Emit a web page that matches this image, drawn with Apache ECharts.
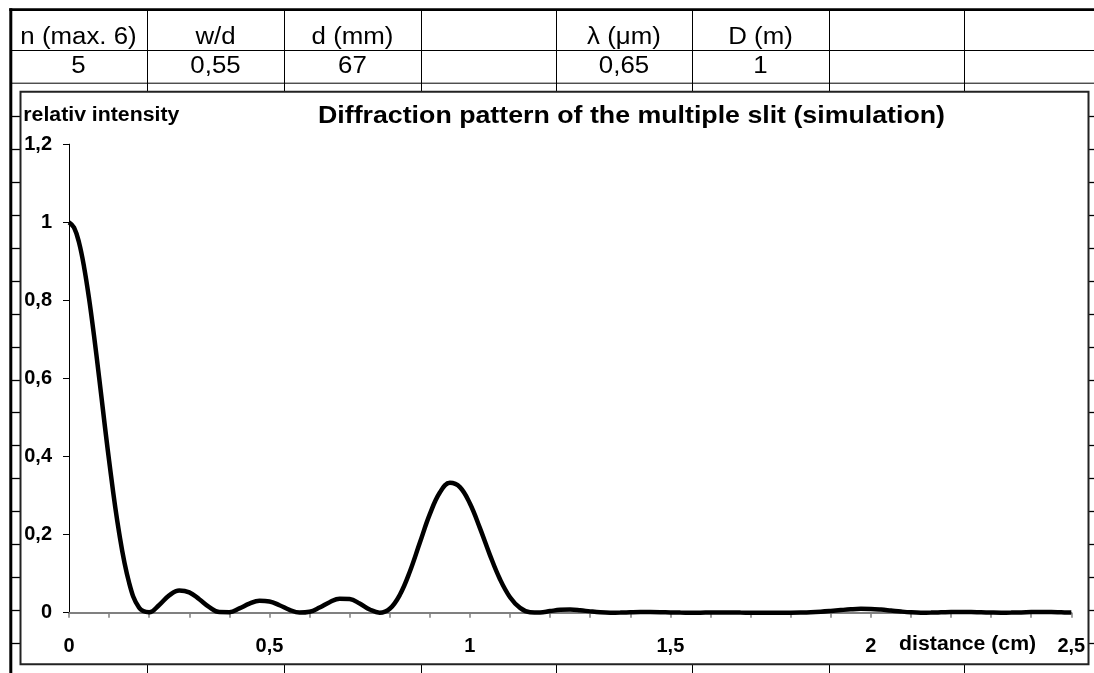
<!DOCTYPE html>
<html>
<head>
<meta charset="utf-8">
<script src="https://cdn.jsdelivr.net/npm/echarts@6/dist/echarts.min.js"></script>
<style>
html,body{margin:0;padding:0;background:#fff;}
#chart{width:1094px;height:673px;}
</style>
</head>
<body>
<div id="chart"></div>
<script>
// ---- data ----
const headerLabels = ['n (max. 6)', 'w/d', 'd (mm)', '', 'λ (μm)', 'D (m)', '', ''];
const headerValues = ['5', '0,55', '67', '', '0,65', '1', '', ''];
const chartTitle = 'Diffraction pattern of the multiple slit (simulation)';
const yAxisName = 'relativ intensity';
const xAxisName = 'distance (cm)';

const distance = [0,0.0125,0.025,0.0375,0.05,0.0625,0.075,0.1,0.125,0.15,0.175,0.2,0.225,0.25,0.275,0.3,0.325,0.35,0.375,0.4,0.425,0.45,0.475,
0.5,0.525,0.55,0.575,0.6,0.625,0.65,0.675,0.7,0.725,0.75,0.775,0.8,0.825,0.85,0.875,0.9,0.925,0.95,0.975,
1,1.025,1.05,1.075,1.1,1.125,1.15,1.175,1.2,1.225,1.25,1.275,1.3,1.325,1.35,1.375,1.4,1.425,1.45,1.475,
1.5,1.525,1.55,1.575,1.6,1.625,1.65,1.675,1.7,1.725,1.75,1.775,1.8,1.825,1.85,1.875,1.9,1.925,1.95,1.975,
2,2.025,2.05,2.075,2.1,2.125,2.15,2.175,2.2,2.225,2.25,2.275,2.3,2.325,2.35,2.375,2.4,2.425,2.45,2.475,2.5];
const intensity = [1,0.9868,0.9481,0.8860,0.8047,0.7087,0.6038,0.3900,0.2050,0.0766,0.0124,0.0010,0.0198,0.0443,0.0570,0.0522,0.0344,0.0143,0.0017,0.0014,0.0109,0.0232,0.0305,
0.0288,0.0192,0.0074,0.0004,0.0025,0.0132,0.0268,0.0360,0.0349,0.0236,0.0083,0.0000,0.0100,0.0453,0.1048,0.1790,0.2523,0.3078,0.3327,0.3218,
0.2795,0.2166,0.1476,0.0857,0.0397,0.0124,0.0013,0.0006,0.0041,0.0073,0.0079,0.0062,0.0034,0.0011,0.0001,0.0002,0.0010,0.0016,0.0017,0.0014,
0.0007,0.0002,0.0000,0.0001,0.0003,0.0003,0.0003,0.0002,0.0001,0.0000,0.0000,0.0000,0.0000,0.0003,0.0010,0.0024,0.0044,0.0067,0.0087,0.0098,
0.0096,0.0081,0.0056,0.0030,0.0010,0.0001,0.0002,0.0009,0.0018,0.0021,0.0019,0.0011,0.0004,0.0000,0.0002,0.0008,0.0015,0.0018,0.0016,0.0009,0.0002];

// ---- layout / style ----
const FONT = "'Liberation Sans', Arial, sans-serif";
const colX = [10, 147, 284, 421, 556, 692, 829, 964, 1094];
const mctx = document.createElement('canvas').getContext('2d');
function fitScale(text, font, target){ mctx.font = font; const w = mctx.measureText(text).width; return w > 0 ? target / w : 1; }
const comma = v => String(+v.toFixed(2)).replace('.', ',');

const g = [];
function line(x1,y1,x2,y2,w,c){ g.push({type:'line', silent:true, shape:{x1,y1,x2,y2}, style:{stroke:c||'#000', lineWidth:w||1}}); }
function text(t, x, y, size, weight, align, sx){
  const font = (weight||'normal') + ' ' + size + 'px ' + FONT;
  g.push({type:'text', silent:true, x:x, y:y, scaleX:sx||1, style:{text:t, x:0, y:0, font:font, fill:'#000', align:align||'center', verticalAlign:'middle'}});
}
// spreadsheet grid
line(9.3, 9.7, 1094, 9.7, 2.7);
line(10.8, 8.3, 10.8, 673, 3);
line(10, 50.5, 1094, 50.5, 1);
line(10, 83.2, 1094, 83.2, 1);
for (let i = 1; i < colX.length - 1; i++) {
  line(colX[i]+0.5, 11, colX[i]+0.5, 91.7, 1);
  line(colX[i]+0.5, 664, colX[i]+0.5, 673, 1);
}
for (let k = 2; k <= 18; k++) {
  const y = Math.round(50 + 32.95*k) + 0.5;
  line(12, y, 20, y, 1.3);
  line(1089, y, 1094, y, 1.3);
}
// header cells
for (let i = 0; i < headerLabels.length; i++) {
  const cx = (colX[i] + colX[i+1]) / 2;
  if (headerLabels[i]) text(headerLabels[i], cx, 37.5, 23.5, 'normal', 'center', 1.1);
  if (headerValues[i]) text(headerValues[i], cx, 67, 23.5, 'normal', 'center', 1.1);
}
// chart box
g.push({type:'rect', silent:true, shape:{x:20.5, y:91.7, width:1068, height:572.5}, style:{fill:null, stroke:'#222', lineWidth:2}});
// chart texts
text(chartTitle, 631.5, 116, 24, 'bold', 'center', fitScale(chartTitle, 'bold 24px ' + FONT, 627));
text(yAxisName, 23.3, 116, 19.5, 'bold', 'left', fitScale(yAxisName, 'bold 19.5px ' + FONT, 156));
text(xAxisName, 967.6, 645, 19.5, 'bold', 'center', fitScale(xAxisName, 'bold 19.5px ' + FONT, 137));

const chart = echarts.init(document.getElementById('chart'), null, {renderer:'canvas'});
chart.setOption({
  backgroundColor:'#fff',
  animation:false,
  grid:{left:69, right:22.7, top:144.2, bottom:60.3, containLabel:false},
  xAxis:{
    type:'value', min:0, max:2.5, interval:0.1,
    axisLine:{show:true, lineStyle:{color:'#808080', width:2}},
    axisTick:{show:true, length:5, lineStyle:{color:'#808080', width:1.5}},
    splitLine:{show:false},
    axisLabel:{
      margin:24, color:'#000', fontWeight:'bold', fontSize:20, fontFamily:FONT,
      formatter: v => (Math.abs(v*2 - Math.round(v*2)) < 1e-6) ? comma(v) : ''
    }
  },
  yAxis:{
    type:'value', min:0, max:1.2, interval:0.2,
    axisLine:{show:true, lineStyle:{color:'#000', width:1}},
    axisTick:{show:true, length:6, lineStyle:{color:'#000', width:1}},
    splitLine:{show:false},
    axisLabel:{margin:17, color:'#000', fontWeight:'bold', fontSize:20, fontFamily:FONT, formatter: v => comma(v)}
  },
  series:[{
    type:'line', showSymbol:false, smooth:0.4, clip:true,
    data: distance.map((x,i) => [x, intensity[i]]),
    lineStyle:{color:'#000', width:4.5}, z:5
  }],
  graphic:{elements:g}
});
</script>
</body>
</html>
